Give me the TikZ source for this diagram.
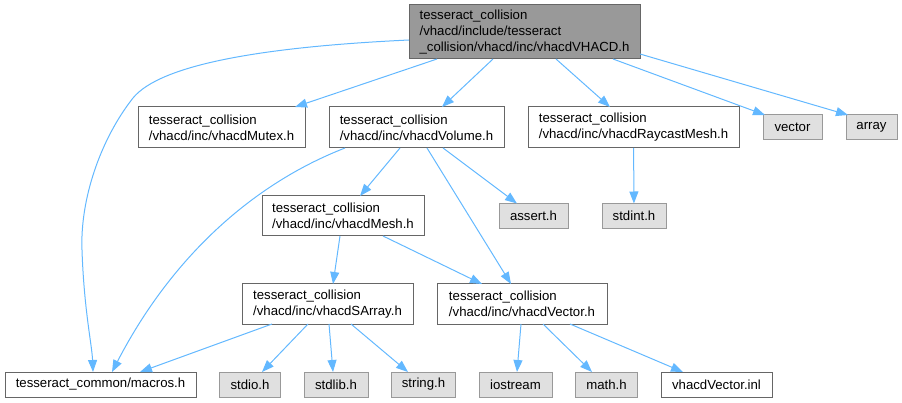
\documentclass[tikz,border=0pt]{standalone}
\usepackage{fontspec}
\setmainfont{Liberation Sans}
\usetikzlibrary{arrows.meta, positioning}
\definecolor{link}{RGB}{99,184,255}
\definecolor{frame}{RGB}{102,102,102}
\definecolor{extframe}{RGB}{153,153,153}
\definecolor{extfill}{RGB}{224,224,224}
\definecolor{curfill}{RGB}{153,153,153}

\begin{document}
\begin{tikzpicture}[
      x=1pt, y=-1pt,
      node distance=24pt,
      file/.style={rectangle, draw=frame, fill=white, line width=1pt, inner sep=0pt, outer sep=0pt,
                   minimum height=41pt, font=\fontsize{13.2}{16}\selectfont, align=left},
      sys/.style={rectangle, draw=extframe, fill=extfill, line width=1pt, inner sep=0pt, outer sep=0pt,
                  minimum height=25pt, font=\fontsize{13.2}{16}\selectfont},
      dep/.style={-{Triangle[length=12pt, width=9pt]}, draw=link, line width=1pt}
    ]
    \useasboundingbox (0,0) rectangle (902,403);
    \node[file, fill=curfill, minimum width=231pt, minimum height=54pt] (vhacd) at (524.5,32)
      {tesseract\_collision\\/vhacd/include/tesseract\\\_collision/vhacd/inc/vhacdVHACD.h};
    \node[file, minimum width=167pt] (mutex) at (221.5,127.5) {tesseract\_collision\\/vhacd/inc/vhacdMutex.h};
    \node[file, minimum width=175pt, right=of mutex]   (volume)  {tesseract\_collision\\/vhacd/inc/vhacdVolume.h};
    \node[file, minimum width=211pt, right=of volume]  (raycast) {tesseract\_collision\\/vhacd/inc/vhacdRaycastMesh.h};
    \node[sys,  minimum width=59pt,  right=of raycast] (vectorh) {vector};
    \node[sys,  minimum width=51pt,  right=of vectorh] (arrayh)  {array};
    \node[file, minimum width=162pt, minimum height=40pt] (mesh) at (343,216) {tesseract\_collision\\/vhacd/inc/vhacdMesh.h};
    \node[sys,  minimum width=69pt] (asserth) at (533.5,216) {assert.h};
    \node[sys,  minimum width=64pt] (stdinth) at (634,216) {stdint.h};
    \node[file, minimum width=171pt, minimum height=40pt] (sarray) at (327.5,304) {tesseract\_collision\\/vhacd/inc/vhacdSArray.h};
    \node[file, minimum width=170pt, minimum height=40pt, right=of sarray] (vec) {tesseract\_collision\\/vhacd/inc/vhacdVector.h};
    \node[file, minimum width=191pt, minimum height=25pt] (macros) at (100.5,384.5) {tesseract\_common/macros.h};
    \node[sys,  minimum width=61pt,  right=23.5pt of macros]    (stdioh)    {stdio.h};
    \node[sys,  minimum width=64pt,  right=23.5pt of stdioh]    (stdlibh)   {stdlib.h};
    \node[sys,  minimum width=64pt,  right=23.5pt of stdlibh]   (stringh)   {string.h};
    \node[sys,  minimum width=73pt,  right=23.5pt of stringh]   (iostreamh) {iostream};
    \node[sys,  minimum width=62pt,  right=23.5pt of iostreamh] (mathh)     {math.h};
    \node[file, minimum width=111pt, minimum height=25pt, right=23.5pt of mathh] (inl) {vhacdVector.inl};
    % includes of vhacdVHACD.h
    \draw[dep] ([yshift=-8pt]vhacd.west) .. controls (260,47) and (160,65) .. (133,98)
      .. controls (100,140) and (80,200) .. (82,250)
      .. controls (84,310) and (92,345) .. ([xshift=-7.5pt]macros.north);
    \draw[dep] ([xshift=-87.5pt]vhacd.south) -- ([xshift=73.5pt]mutex.north);
    \draw[dep] ([xshift=-31.5pt]vhacd.south) -- ([xshift=25.5pt]volume.north);
    \draw[dep] ([xshift=31.5pt]vhacd.south) -- ([xshift=-23.5pt]raycast.north);
    \draw[dep] ([xshift=88.5pt]vhacd.south) -- ([xshift=2pt]vectorh.north west);
    \draw[dep] ([yshift=5pt]vhacd.south east) -- ([xshift=2pt]arrayh.north west);
    % vhacdVolume.h
    \draw[dep] ([xshift=-71.5pt]volume.south) .. controls (250,185) and (170,260) .. ([xshift=11.5pt]macros.north);
    \draw[dep] ([xshift=-16.5pt]volume.south) -- ([xshift=17pt]mesh.north);
    \draw[dep] ([xshift=10.5pt]volume.south) -- ([xshift=-11pt]vec.north);
    \draw[dep] ([xshift=26.5pt]volume.south) -- ([xshift=-16.5pt]asserth.north);
    \draw[dep] (raycast) -- (stdinth);
    % vhacdMesh.h
    \draw[dep] ([xshift=-3pt]mesh.south) -- ([xshift=5.5pt]sarray.north);
    \draw[dep] ([xshift=40pt]mesh.south) -- ([xshift=-40pt]vec.north);
    % vhacdSArray.h
    \draw[dep] ([xshift=-55.5pt]sarray.south) -- ([xshift=39.5pt]macros.north);
    \draw[dep] ([xshift=-19.5pt]sarray.south) -- ([xshift=12pt]stdioh.north);
    \draw[dep] ([xshift=1.5pt]sarray.south) -- ([xshift=-3pt]stdlibh.north);
    \draw[dep] ([xshift=23.5pt]sarray.south) -- ([xshift=-15.5pt]stringh.north);
    % vhacdVector.h
    \draw[dep] ([xshift=-1pt]vec.south) -- ([xshift=1.5pt]iostreamh.north);
    \draw[dep] ([xshift=21pt]vec.south) -- ([xshift=-14.5pt]mathh.north);
    \draw[dep] ([xshift=48pt]vec.south) -- ([xshift=-33.5pt]inl.north);
  \end{tikzpicture}
\end{document}
